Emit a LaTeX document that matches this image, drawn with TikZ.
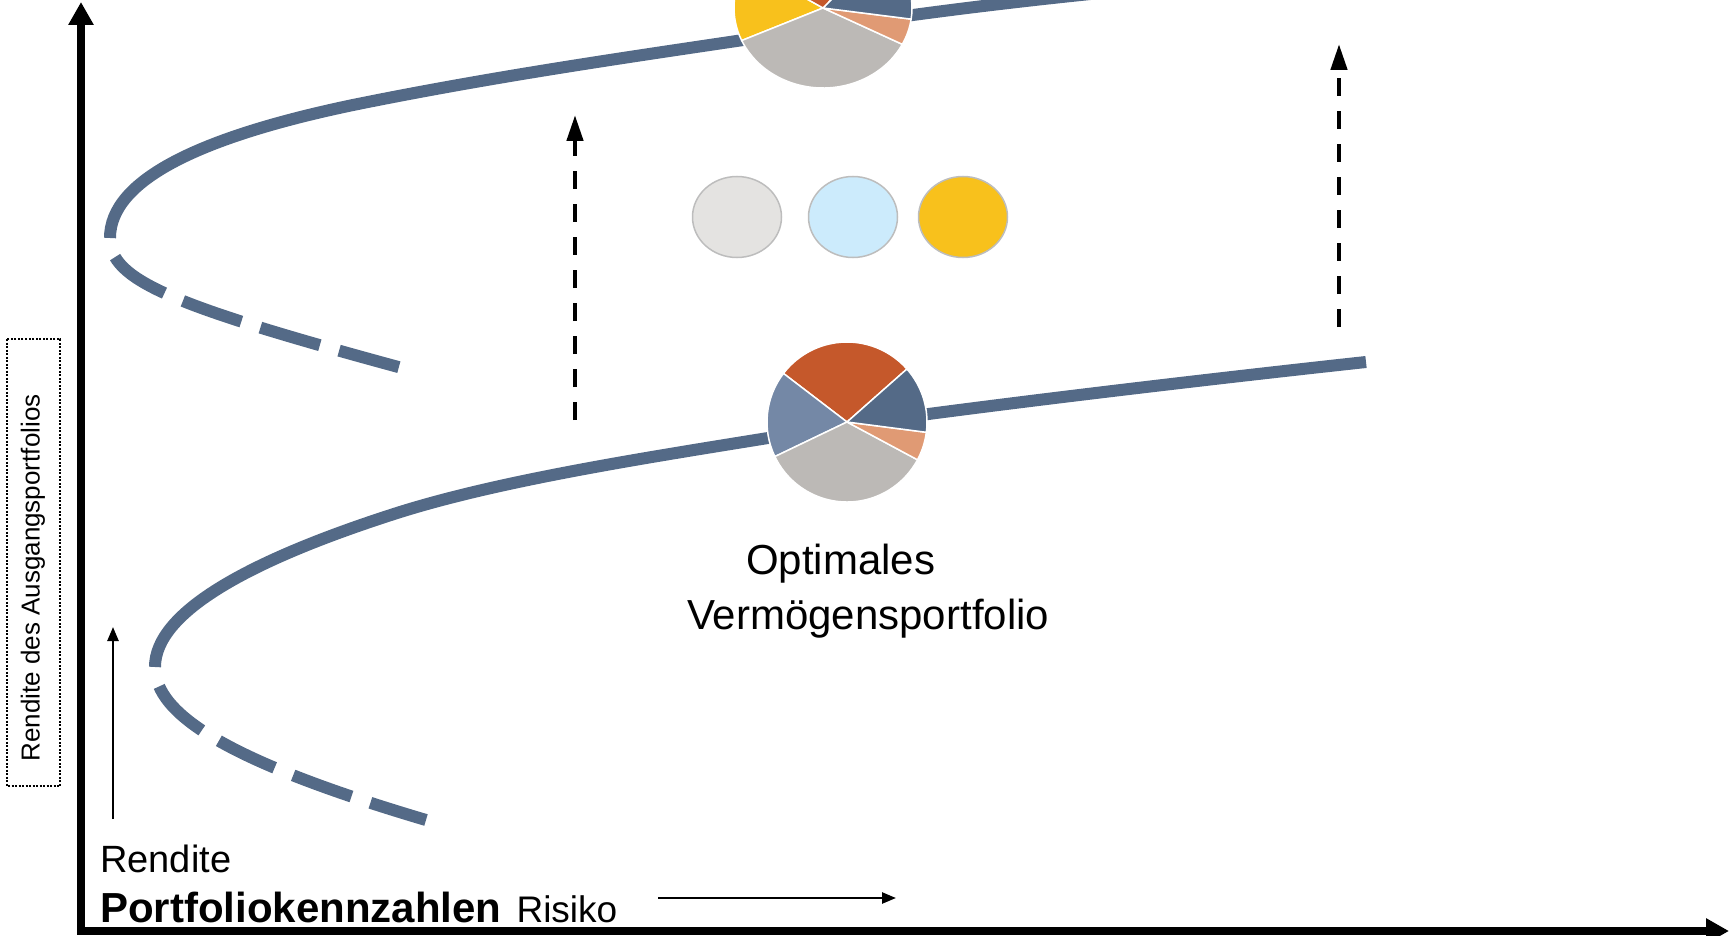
\documentclass[tikz,border=0pt]{standalone}
\usepackage{fontspec}
\setmainfont{Liberation Sans}
\usetikzlibrary{arrows.meta,shapes.geometric}
\definecolor{curvecol}{HTML}{546A87}
\definecolor{pred}{HTML}{C5582B}
\definecolor{pblue}{HTML}{546A87}
\definecolor{porange}{HTML}{E09A74}
\definecolor{pgray}{HTML}{BCB9B6}
\definecolor{pslate}{HTML}{7488A6}
\definecolor{pyellow}{HTML}{F8C11C}
\definecolor{lgray}{HTML}{E4E3E1}
\definecolor{lblue}{HTML}{CCEBFC}
\definecolor{ringcol}{HTML}{BDBDBD}
\begin{document}
\begin{tikzpicture}[x=1pt,y=-1pt,
  frontier/.style={draw=curvecol,line width=12pt},
  frontierdash/.style={frontier,dash pattern=on 62pt off 20pt,dash phase=62pt},
  axisline/.style={line width=8pt,line join=miter,{Triangle[length=23pt,width=24pt]}-{Triangle[length=23pt,width=24pt]}},
  shiftarrow/.style={line width=4.5pt,dash pattern=on 18pt off 15pt,-{Triangle[length=26pt,width=16pt]}},
  thinarrow/.style={line width=2.5pt,-{Triangle[length=14pt,width=11pt]}},
  pieslice/.style={draw=white,line width=1.5pt,line join=round},
  asset/.style={ellipse,draw=ringcol,line width=1.5pt,minimum width=89pt,minimum height=81pt,inner sep=0pt},
  txt/.style={inner sep=0pt,anchor=base west}
]
\useasboundingbox (0,0) rectangle (1730,936);
\clip (0,0) rectangle (1730,936);

% frontiers
\draw[frontier] (110,238) .. controls (110,180) and (200,137) .. (353,105)
  .. controls (520,71) and (680,50) .. (823,28)
  .. controls (900,16) and (1000,3) .. (1110,-8) -- (1300,-30);
\draw[frontierdash] (110,238) .. controls (110,280) and (170,305) .. (402,368);

\draw[frontier] (155,667) .. controls (155,612) and (250,560) .. (397,513)
  .. controls (520,474) and (700,450) .. (847,425)
  .. controls (990,405) and (1200,380) .. (1366,362);
\draw[frontierdash] (155,667) .. controls (155,715) and (230,762) .. (426,820);

% top pie
\coordinate (pieT) at (823,8);
\foreach \a/\b/\c in {148/204/pyellow, 204/333/pgray, 333/352/porange, -8/49/pblue, 49/148/pred}
  \filldraw[pieslice,fill=\c] (pieT) -- ++(\a:89pt and 80pt)
    arc[start angle=\a,end angle=\b,x radius=89pt,y radius=80pt] -- cycle;

% bottom pie
\coordinate (pieB) at (847,422);
\foreach \a/\b/\c in {41.5/142.6/pred, 142.6/205.6/pslate, 205.6/331.8/pgray, 331.8/352.6/porange, -7.4/41.5/pblue}
  \filldraw[pieslice,fill=\c] (pieB) -- ++(\a:80pt)
    arc[start angle=\a,end angle=\b,radius=80pt] -- cycle;

% asset classes
\node[asset,fill=lgray] (a1) at (737,217) {};
\node[asset,fill=lblue] (a2) at (853,217) {};
\node[asset,fill=pyellow] (a3) at (963,217) {};

% shift arrows
\coordinate (s1a) at (575,420); \coordinate (s1b) at (575,115);
\coordinate (s2a) at (1339,327); \coordinate (s2b) at (1339,44);
\draw[shiftarrow] (s1a) -- (s1b);
\draw[shiftarrow] (s2a) -- (s2b);

% axes
\coordinate (ytop) at (81,2);
\coordinate (O) at (81,931);
\coordinate (xend) at (1729,931);
\draw[axisline] (ytop) -- (O) -- (xend);

% thin arrows
\coordinate (r1) at (113,819); \coordinate (r2) at (113,627);
\draw[thinarrow] (r1) -- (r2);
\coordinate (k1) at (658,898); \coordinate (k2) at (896,898);
\draw[thinarrow] (k1) -- (k2);

% texts
\node[txt,font=\fontsize{38}{46}\selectfont] (rendite) at (100,872) {Rendite};
\node[txt] (pk) at (100,922) {{\fontsize{42}{50}\selectfont\bfseries Portfoliokennzahlen}\hspace{15pt}{\fontsize{37}{45}\selectfont Risiko}};
\node[txt,font=\fontsize{42}{55}\selectfont] (opt1) at (746,574) {Optimales};
\node[txt,font=\fontsize{42}{55}\selectfont] (opt2) at (687,629) {Vermögensportfolio};

% vertical label
\draw[line width=1.5pt,dash pattern=on 2pt off 1.5pt] (7,339) rectangle (60,786);
\node[rotate=90,inner sep=0pt,font=\fontsize{26}{30}\selectfont] (ylab) at (33,578) {Rendite des Ausgangsportfolios};
\end{tikzpicture}
\end{document}
